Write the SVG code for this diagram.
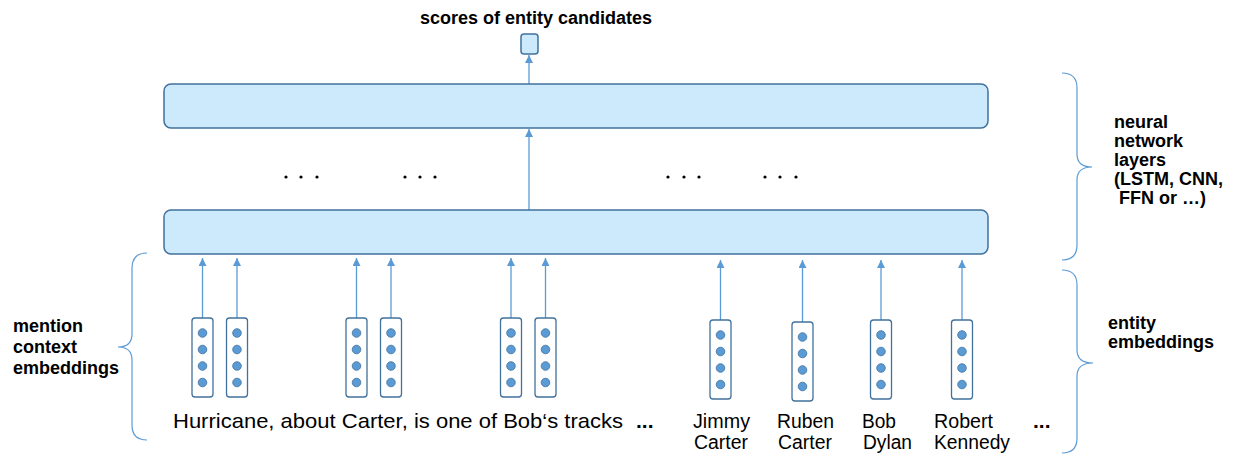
<svg xmlns="http://www.w3.org/2000/svg" width="1237" height="455" viewBox="0 0 1237 455">
<style>
.layer{fill:#cdeafc;stroke:#41719c;stroke-width:1.5}
.vec{fill:#ffffff;stroke:#41719c;stroke-width:1.3}
.dot{fill:#5b9bd5;stroke:#41719c;stroke-width:0.8}
.arr{stroke:#5b9bd5;stroke-width:1.3;fill:none;marker-end:url(#ah)}
.brace{stroke:#5b9bd5;stroke-width:1.2;fill:none}
.lbl{font-family:"Liberation Sans",Arial,sans-serif;font-weight:bold;font-size:18px;fill:#000}
.sent{font-family:"Liberation Sans",Arial,sans-serif;font-size:21px;fill:#000}
.ent{font-family:"Liberation Sans Narrow","Liberation Sans",Arial,sans-serif;font-size:20px;fill:#000}
.ell{fill:#000}
</style>
<defs>
<marker id="ah" markerUnits="userSpaceOnUse" markerWidth="8" markerHeight="8" refX="8" refY="4" orient="auto">
<path d="M0,0 L8,4 L0,8 z" fill="#5b9bd5"/>
</marker>
<g id="dots4">
<circle class="dot" cx="0" cy="0" r="4.3"/>
<circle class="dot" cx="0" cy="16.5" r="4.3"/>
<circle class="dot" cx="0" cy="33" r="4.3"/>
<circle class="dot" cx="0" cy="49.5" r="4.3"/>
</g>
</defs>
<rect width="1237" height="455" fill="#ffffff"/>

<g id="connectors">
<line class="arr" x1="529" y1="84" x2="529" y2="55"/>
<line class="arr" x1="529" y1="210" x2="529" y2="129"/>
<line class="arr" x1="202.5" y1="318" x2="202.5" y2="258"/>
<line class="arr" x1="237" y1="318" x2="237" y2="258"/>
<line class="arr" x1="356.5" y1="318" x2="356.5" y2="258"/>
<line class="arr" x1="391" y1="318" x2="391" y2="258"/>
<line class="arr" x1="511" y1="318" x2="511" y2="258"/>
<line class="arr" x1="545.5" y1="318" x2="545.5" y2="258"/>
<line class="arr" x1="720.5" y1="320" x2="720.5" y2="260"/>
<line class="arr" x1="802.5" y1="322" x2="802.5" y2="260"/>
<line class="arr" x1="881" y1="320" x2="881" y2="260"/>
<line class="arr" x1="962" y1="320" x2="962" y2="260"/>
</g>

<g id="title">
<text class="lbl" x="536" y="24" text-anchor="middle">scores of entity candidates</text>
</g>
<g id="score">
<rect class="layer" x="521" y="34" width="17" height="20" rx="3"/>
</g>
<g id="layer-top">
<rect class="layer" x="164" y="84" width="824" height="44" rx="7"/>
</g>
<g id="layer-bottom">
<rect class="layer" x="164" y="210" width="824" height="44" rx="7"/>
</g>
<g id="ellipses">
<circle class="ell" cx="286" cy="177" r="1.6"/><circle class="ell" cx="301" cy="177" r="1.6"/><circle class="ell" cx="317" cy="177" r="1.6"/>
<circle class="ell" cx="405" cy="177" r="1.6"/><circle class="ell" cx="420" cy="177" r="1.6"/><circle class="ell" cx="435" cy="177" r="1.6"/>
<circle class="ell" cx="668" cy="177" r="1.6"/><circle class="ell" cx="684" cy="177" r="1.6"/><circle class="ell" cx="699" cy="177" r="1.6"/>
<circle class="ell" cx="765" cy="177" r="1.6"/><circle class="ell" cx="780" cy="177" r="1.6"/><circle class="ell" cx="796" cy="177" r="1.6"/>
</g>

<g id="ctx1"><rect class="vec" x="192" y="318" width="21" height="79" rx="3"/><use href="#dots4" x="202.5" y="333"/></g>
<g id="ctx2"><rect class="vec" x="226.5" y="318" width="21" height="79" rx="3"/><use href="#dots4" x="237" y="333"/></g>
<g id="ctx3"><rect class="vec" x="346" y="318" width="21" height="79" rx="3"/><use href="#dots4" x="356.5" y="333"/></g>
<g id="ctx4"><rect class="vec" x="380.5" y="318" width="21" height="79" rx="3"/><use href="#dots4" x="391" y="333"/></g>
<g id="ctx5"><rect class="vec" x="500.5" y="318" width="21" height="79" rx="3"/><use href="#dots4" x="511" y="333"/></g>
<g id="ctx6"><rect class="vec" x="535" y="318" width="21" height="79" rx="3"/><use href="#dots4" x="545.5" y="333"/></g>

<g id="ent-jimmy"><rect class="vec" x="710" y="320" width="21" height="79" rx="3"/><use href="#dots4" x="720.5" y="335"/></g>
<g id="ent-ruben"><rect class="vec" x="792" y="322" width="21" height="79" rx="3"/><use href="#dots4" x="802.5" y="337"/></g>
<g id="ent-bob"><rect class="vec" x="870.5" y="320" width="21" height="79" rx="3"/><use href="#dots4" x="881" y="335"/></g>
<g id="ent-robert"><rect class="vec" x="951.5" y="320" width="21" height="79" rx="3"/><use href="#dots4" x="962" y="335"/></g>

<g id="sentence">
<text class="sent" x="173" y="428" textLength="450" lengthAdjust="spacingAndGlyphs">Hurricane, about Carter, is one of Bob‘s tracks</text>
<text class="sent" x="636" y="428" font-weight="bold">...</text>
</g>

<g id="entity-labels">
<text class="ent" x="693" y="428" textLength="57" lengthAdjust="spacingAndGlyphs">Jimmy</text>
<text class="ent" x="694" y="449" textLength="54" lengthAdjust="spacingAndGlyphs">Carter</text>
<text class="ent" x="777" y="428" textLength="57" lengthAdjust="spacingAndGlyphs">Ruben</text>
<text class="ent" x="778" y="449" textLength="54" lengthAdjust="spacingAndGlyphs">Carter</text>
<text class="ent" x="862" y="428" textLength="34" lengthAdjust="spacingAndGlyphs">Bob</text>
<text class="ent" x="863" y="449" textLength="49" lengthAdjust="spacingAndGlyphs">Dylan</text>
<text class="ent" x="934" y="428" textLength="59" lengthAdjust="spacingAndGlyphs">Robert</text>
<text class="ent" x="934" y="449" textLength="76" lengthAdjust="spacingAndGlyphs">Kennedy</text>
<text class="sent" x="1033" y="428" font-weight="bold">...</text>
</g>

<g id="brace-left">
<path class="brace" d="M147,253 Q132,253 132,268 L132,334 Q132,347 118,347 Q132,347 132,360 L132,425 Q132,440 147,440"/>
<text class="lbl" x="13" y="332">mention</text>
<text class="lbl" x="13" y="353">context</text>
<text class="lbl" x="13" y="374">embeddings</text>
</g>

<g id="brace-layers">
<path class="brace" d="M1062,73 Q1077,73 1077,88 L1077,154 Q1077,167 1092,167 Q1077,167 1077,180 L1077,245 Q1077,260 1062,260"/>
<text class="lbl" x="1114" y="128">neural</text>
<text class="lbl" x="1114" y="147">network</text>
<text class="lbl" x="1114" y="166">layers</text>
<text class="lbl" x="1114" y="185">(LSTM, CNN,</text>
<text class="lbl" x="1119" y="204">FFN or …)</text>
</g>

<g id="brace-entities">
<path class="brace" d="M1062,270 Q1077,270 1077,285 L1077,350 Q1077,363 1093,363 Q1077,363 1077,376 L1077,438 Q1077,453 1062,453"/>
<text class="lbl" x="1108" y="329">entity</text>
<text class="lbl" x="1108" y="348">embeddings</text>
</g>
</svg>
